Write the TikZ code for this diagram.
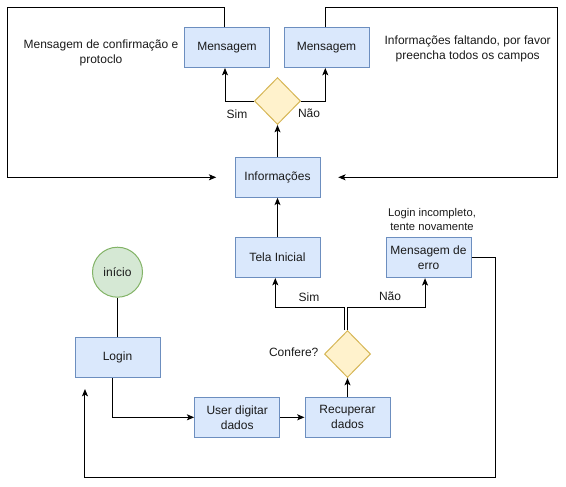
\documentclass[tikz,border=0pt]{standalone}
\usepackage{fontspec}
\setmainfont{Liberation Sans}
\usetikzlibrary{shapes.geometric,arrows.meta}
\definecolor{bfill}{HTML}{DAE8FC}
\definecolor{bdraw}{HTML}{6C8EBF}
\definecolor{yfill}{HTML}{FFF2CC}
\definecolor{ydraw}{HTML}{D6B656}
\definecolor{gfill}{HTML}{D5E8D4}
\definecolor{gdraw}{HTML}{82B366}
\definecolor{txt}{HTML}{1A1A1A}
\begin{document}
\begin{tikzpicture}[x=0.75pt,y=-0.75pt,
  font=\fontsize{9pt}{11.25pt}\selectfont, text=txt,
  box/.style={rectangle, draw=bdraw, fill=bfill, line width=0.75pt, minimum width=63.75pt, minimum height=30pt, inner sep=1pt, align=center},
  dec/.style={diamond, draw=ydraw, fill=yfill, line width=0.75pt, minimum width=34.5pt, minimum height=35.25pt, inner sep=0pt},
  startc/.style={circle, draw=gdraw, fill=gfill, line width=0.75pt, minimum size=37.5pt, inner sep=0pt},
  lbl/.style={inner sep=0pt, align=center},
  small/.style={font=\fontsize{8.4pt}{10.8pt}\selectfont},
  conn/.style={draw=black, line width=0.75pt},
  arr/.style={conn, -{Stealth[length=5.5pt,width=4.5pt,inset=1.3pt]}}
]
\useasboundingbox (0,0) rectangle (566,486);

% nodes
\node[box] (msg1) at (227,47.5) {Mensagem};
\node[box] (msg2) at (326.5,47.5) {Mensagem};
\node[dec] (d1) at (277.5,101) {};
\node[box] (info) at (277.5,177.3) {Informações};
\node[box] (tela) at (277.5,257.5) {Tela Inicial};
\node[box] (erro) at (428.5,257.7) {Mensagem de\\erro};
\node[dec] (d2) at (347.5,354) {};
\node[startc] (inicio) at (117.5,272.2) {início};
\node[box] (login) at (117.5,357.5) {Login};
\node[box] (user) at (237.2,417.3) {User digitar\\dados};
\node[box] (recup) at (347.5,417.3) {Recuperar\\dados};

% labels
\node[lbl] (t1) at (101,52.6) {Mensagem de confirmação e\\protoclo};
\node[lbl] (t2) at (467.7,48.5) {Informações faltando, por favor\\preencha todos os campos};
\node[lbl,small] (t3) at (432,219.5) {Login incompleto,\\tente novamente};
\node[lbl] (sim1) at (237,114) {Sim};
\node[lbl] (nao1) at (309,113.7) {Não};
\node[lbl] (sim2) at (309,297) {Sim};
\node[lbl] (nao2) at (390,296.3) {Não};
\node[lbl] (conf) at (293.7,352) {Confere?};

% connectors
\draw[conn] (inicio.south) -- (login.north);
\draw[arr] ([xshift=-3.6pt]login.south) |- (user.west);
\draw[arr] (user.east) -- (recup.west);
\draw[arr] (recup.north) -- (d2.south);
\draw[arr] ([xshift=-1.9pt]d2.north) -- ++(0,-23) -| ([xshift=-1.65pt]tela.south);
\draw[arr] ([xshift=0.3pt]d2.north) -- ++(0,-23) -| ([xshift=-2.6pt]erro.south);
\draw[arr] (tela.north) -- (info.south);
\draw[arr] (info.north) -- (d1.south);
\draw[arr] (d1.west) -| ([xshift=-1.5pt]msg1.south);
\draw[arr] (d1.east) -| ([xshift=-0.9pt]msg2.south);
\draw[arr] ([xshift=-2.25pt]msg1.north) |- (7.3,7.3) |- ([xshift=-13.7pt]info.west);
\draw[arr] ([xshift=-0.4pt]msg2.north) |- (557,7.3) |- ([xshift=13.3pt]info.east);
\draw[arr] (erro.east) -| (495,477.3) -| ([xshift=-24.4pt,yshift=-8.25pt]login.south);
\end{tikzpicture}
\end{document}
